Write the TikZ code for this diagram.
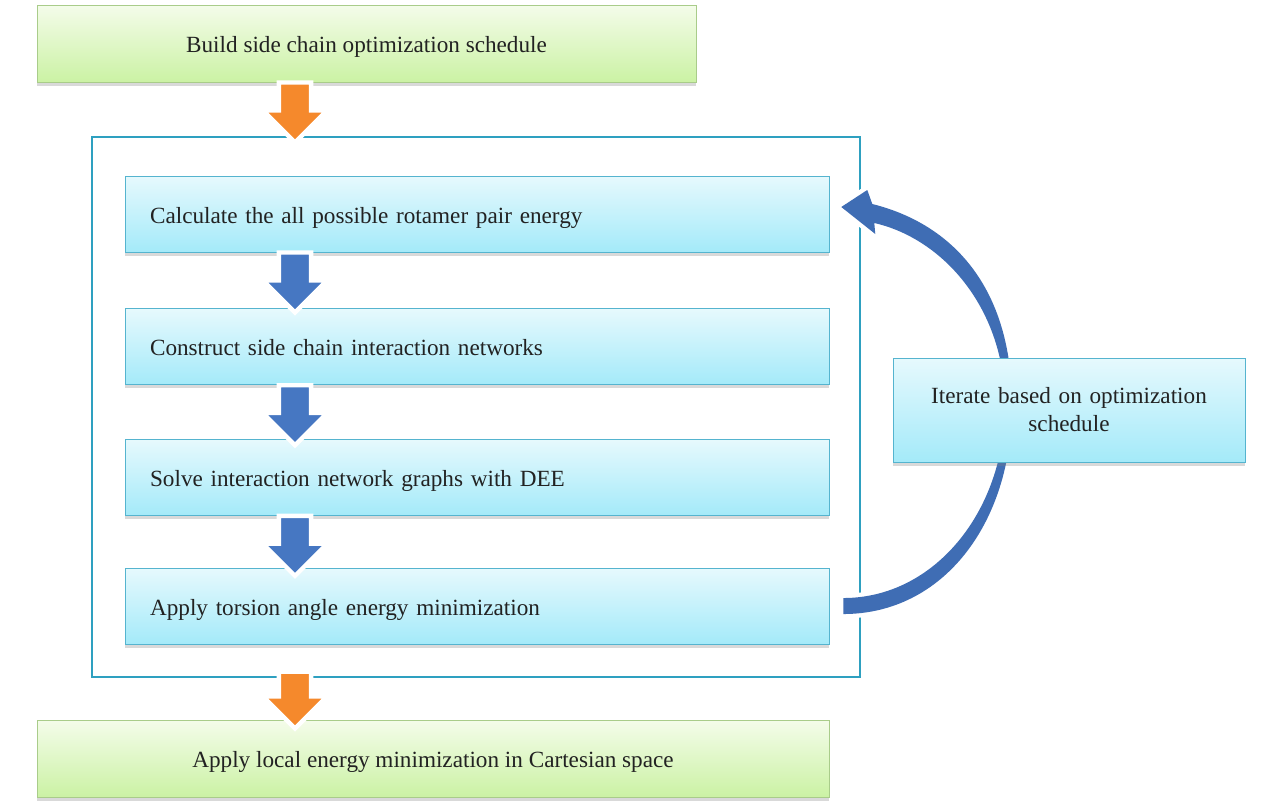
\documentclass[tikz,border=0pt]{standalone}
\usepackage{fontspec}
\setmainfont{Liberation Serif}
\usetikzlibrary{positioning,calc,shapes.arrows,shadows}
\definecolor{greentop}{HTML}{F4FCEA}
\definecolor{greenbot}{HTML}{CBF2A4}
\definecolor{greenline}{HTML}{A9CC8A}
\definecolor{bluetop}{HTML}{E6F9FD}
\definecolor{bluebot}{HTML}{A4EAF9}
\definecolor{blueline}{HTML}{55B4CF}
\definecolor{framecol}{HTML}{2EA0C0}
\definecolor{orangearrow}{HTML}{F5892C}
\definecolor{bluearrow}{HTML}{4677C2}
\definecolor{curvecol}{HTML}{3F6DB4}
\definecolor{textgray}{HTML}{222222}

\begin{document}
\begin{tikzpicture}
[x=0.02cm, y=-0.02cm, font=\fontsize{13.2}{16}\selectfont, text=textgray,
 boxshadow/.style={drop shadow={shadow xshift=0pt, shadow yshift=-2pt, opacity=.3}},
 greenbox/.style={draw=greenline, top color=greentop, bottom color=greenbot,
   minimum height=1.54cm, text height=12pt, text depth=1.5pt, boxshadow},
 bluebox/.style={draw=blueline, top color=bluetop, bottom color=bluebot,
   minimum height=1.52cm, text width=13.08cm, inner xsep=0.5cm, align=left,
   text height=12pt, text depth=1.5pt, boxshadow},
 downarrow/.style={single arrow, rotate=-90, anchor=tail, fill=#1, draw=white, line width=2.5pt,
   minimum height=1.2cm, inner xsep=0pt, inner ysep=0.28cm,
   single arrow head extend=0.32cm,
   drop shadow={shadow xshift=0pt, shadow yshift=-1pt, opacity=.2}}]

\useasboundingbox (0,0) rectangle (1286,805);
%________________________________________________%
\node[greenbox, minimum width=13.18cm] (build) at (366.5,43.5) {Build side chain optimization schedule};
\node[draw=framecol, line width=1.6pt, minimum width=15.36cm, minimum height=10.8cm] (frame) at (476,407) {};
%________________________________________________%
\node[bluebox] (calc) at (477,214) {Calculate the all possible rotamer pair energy};
\node[bluebox, below=1.12cm of calc] (network) {Construct side chain interaction networks};
\node[bluebox, below=1.08cm of network] (solve) {Solve interaction network graphs with DEE};
\node[bluebox, below=1.04cm of solve] (torsion) {Apply torsion angle energy minimization};
%________________________________________________%
\node[greenbox, minimum width=15.84cm] (local) at (433,758.5) {Apply local energy minimization in Cartesian space};
%________________________________________________%
\coordinate (axis) at (295,0);
\node[downarrow=orangearrow] (a1) at ($(build.south -| axis)+(0,-2)$) {};
\node[downarrow=bluearrow] (a2) at ($(calc.south -| axis)+(0,-2)$) {};
\node[downarrow=bluearrow] (a3) at ($(network.south -| axis)+(0,-2)$) {};
\node[downarrow=bluearrow] (a4) at ($(solve.south -| axis)+(0,-2)$) {};
\node[downarrow=orangearrow, minimum height=1.14cm] (a5) at ($(frame.south -| axis)+(0,-9)$) {};
%________________________________________________%
% curved arrow back to the first step
\fill[curvecol, preaction={draw=white, line width=5pt,
      drop shadow={shadow xshift=0pt, shadow yshift=-1pt, opacity=.2}}]
  ($(torsion.east)+(14,8)$) .. controls +(100,0) and +(0,118) .. (1012,405)
  .. controls +(0,-118) and +(80,20) .. ($(calc.east)+(43,-10)$)
  -- ($(calc.east)+(38,-24)$) -- ($(calc.east)+(12,-7)$) -- ($(calc.east)+(46,20)$)
  -- ($(calc.east)+(45,9)$) .. controls +(70,16) and +(0,-95) .. (1005,405)
  .. controls +(0,105) and +(92,0) .. ($(torsion.east)+(14,-8)$) -- cycle;
%________________________________________________%
\node[bluebox, text width=6.04cm, align=center, minimum height=2.08cm,
      text height=, text depth=] (iterate) at (1069,410)
  {Iterate based on optimization\\ schedule};
%________________________________________________%
\end{tikzpicture}
\end{document}
